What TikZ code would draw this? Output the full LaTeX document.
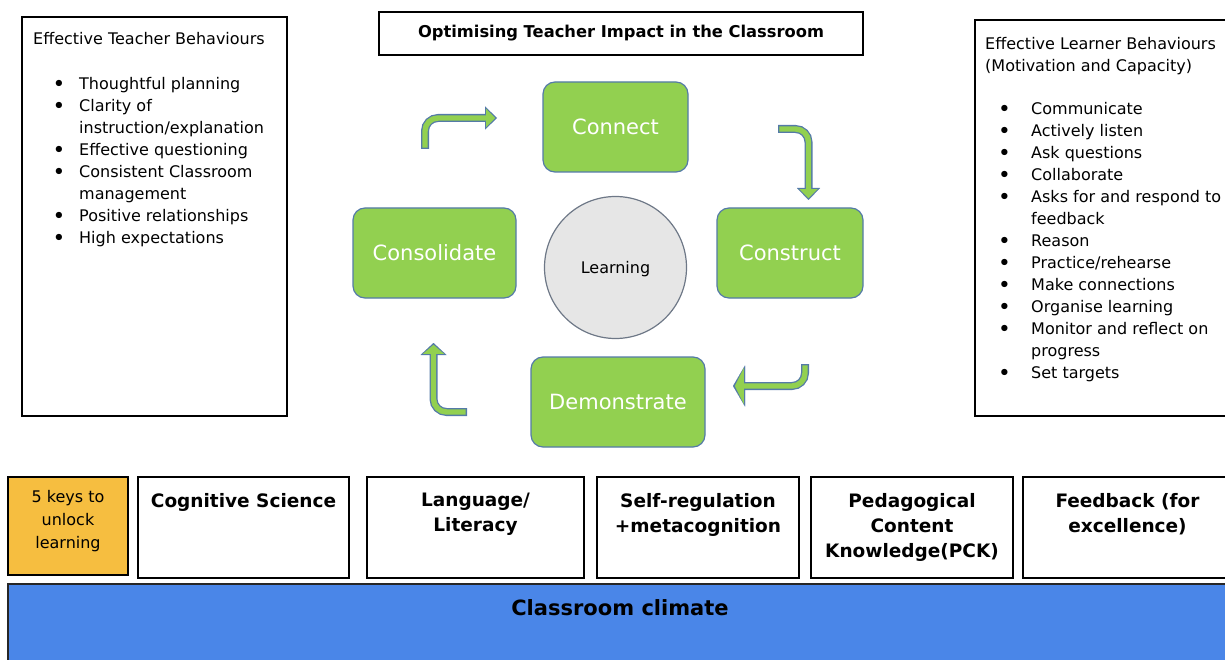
\documentclass[tikz,border=0pt]{standalone}
\usepackage{fontspec}
\setmainfont{DejaVu Sans}
\usetikzlibrary{positioning,arrows.meta}

\newcommand{\dotmark}{\raisebox{-1.9pt}{\scalebox{1.35}{\textbullet}}}
\newcommand{\bul}{\hspace*{19.5pt}\makebox[26.5pt][l]{\dotmark}}
\newcommand{\rbul}{\hspace*{13pt}\makebox[33pt][l]{\dotmark}}
\newcommand{\ind}{\hspace*{46pt}}

\tikzset{
  panel/.style={draw=black, line width=1.8pt, fill=white, inner sep=0pt},
  listtext/.style={align=left, inner sep=0pt, font=\fontsize{16}{22}\selectfont},
  stepbox/.style={draw=stepedge, line width=1.2pt, fill=stepgreen, rounded corners=12pt,
    text=white, minimum height=90pt, font=\fontsize{21}{24}\selectfont},
  keytext/.style={align=center, inner sep=0pt, font=\bfseries\fontsize{18.5}{25}\selectfont},
  flowout/.style={line width=8pt, draw=stepedge, rounded corners=13pt,
    -{Triangle[width=#1, length=12pt, line width=0.01pt]}},
  flowin/.style={line width=5.4pt, draw=stepgreen, rounded corners=13pt,
    shorten <=1.3pt, shorten >=1.9pt, -{Triangle[width=#1-5pt, length=9pt, line width=0.01pt]}},
}

\begin{document}
\begin{tikzpicture}[x=1pt, y=-1pt]
  \definecolor{stepgreen}{RGB}{146,208,80}
  \definecolor{stepedge}{RGB}{84,122,168}
  \definecolor{keyyellow}{RGB}{246,190,64}
  \definecolor{climateblue}{RGB}{74,134,232}
  \definecolor{learngrey}{RGB}{230,230,230}
  \definecolor{circleedge}{RGB}{110,120,135}

  \useasboundingbox (0,0) rectangle (1225,660);

  % Side panels and title first

  \node[panel, minimum width=265pt, minimum height=399pt] (teacher) at (154.5,216.5) {};
  \node[listtext, anchor=north west] (teacherlist) at (33,32.2) {%
    Effective Teacher Behaviours\\[23pt]
    \bul Thoughtful planning\\
    \bul Clarity of\\
    \ind instruction/explanation\\
    \bul Effective questioning\\
    \bul Consistent Classroom\\
    \ind management\\
    \bul Positive relationships\\
    \bul High expectations};

  \node[panel, minimum width=257pt, minimum height=396pt] (learner) at (1103.5,218) {};
  \node[listtext, anchor=north west] (learnerlist) at (985,36.8) {%
    Effective Learner Behaviours\\
    (Motivation and Capacity)\\[21pt]
    \rbul Communicate\\
    \rbul Actively listen\\
    \rbul Ask questions\\
    \rbul Collaborate\\
    \rbul Asks for and respond to\\
    \ind feedback\\
    \rbul Reason\\
    \rbul Practice/rehearse\\
    \rbul Make connections\\
    \rbul Organise learning\\
    \rbul Monitor and reflect on\\
    \ind progress\\
    \rbul Set targets};

  \node[panel, minimum width=484pt, minimum height=43pt,
    font=\bfseries\fontsize{16.3}{19}\selectfont] (title) at (621,33.5)
    {Optimising Teacher Impact in the Classroom};

  % Then the learning cycle

  \node[circle, draw=circleedge, fill=learngrey, line width=1.2pt, minimum size=142pt,
    text depth=0pt, font=\fontsize{16}{19}\selectfont] (learn) at (615.5,267.5) {Learning};

  \node[stepbox, minimum width=145pt] (connect) at (615.5,127) {Connect};
  \node[stepbox, minimum width=146pt] (construct) at (790,253) {Construct};
  \node[stepbox, minimum width=174pt] (demonstrate) at (618,402) {Demonstrate};
  \node[stepbox, minimum width=163pt] (consolidate) at (434.5,253) {Consolidate};

  \coordinate (flow1s) at (425,149);
  \coordinate (flow1e) at (497,118);
  \coordinate (flow2s) at (778,129);
  \coordinate (flow2e) at (808.5,200);
  \coordinate (flow3s) at (805,364);
  \coordinate (flow3e) at (733,386);
  \coordinate (flow4s) at (467,412);
  \coordinate (flow4e) at (433.5,343);

  \draw[flowout=23pt] (flow1s) |- (flow1e);
  \draw[flowin=23pt] (flow1s) |- (flow1e);
  \draw[flowout=23pt] (flow2s) -| (flow2e);
  \draw[flowin=23pt] (flow2s) -| (flow2e);
  \draw[flowout=41pt] (flow3s) |- (flow3e);
  \draw[flowin=41pt] (flow3s) |- (flow3e);
  \draw[flowout=26pt] (flow4s) -| (flow4e);
  \draw[flowin=26pt] (flow4s) -| (flow4e);

  % Keys to unlock learning

  \node[panel, fill=keyyellow, minimum width=120pt, minimum height=98pt] (keys) at (68,526) {};
  \node[align=center, inner sep=0pt, font=\fontsize{16}{23}\selectfont,
    below=14pt of keys.north] (keystext) {5 keys to\\unlock\\learning};

  \foreach \name/\cx/\w/\label in {%
      cogsci/243.5/211/{Cognitive Science},
      literacy/475.5/217/{Language/\\Literacy},
      selfreg/698/202/{Self-regulation\\+metacognition},
      pck/912/202/{Pedagogical\\Content\\Knowledge(PCK)},
      feedback/1127.5/209/{Feedback (for\\excellence)}}{
    \node[panel, minimum width=\w pt, minimum height=101pt] (\name) at (\cx,527.5) {};
    \node[keytext, below=17pt of \name.north] (\name-text) {\label};
  }

  \node[panel, draw=black!85, fill=climateblue, minimum width=1224pt, minimum height=84pt]
    (climate) at (620,626) {};
  \node[font=\bfseries\fontsize{21}{25}\selectfont, inner sep=0pt] (climatetext) at (620,608)
    {Classroom climate};
\end{tikzpicture}
\end{document}
